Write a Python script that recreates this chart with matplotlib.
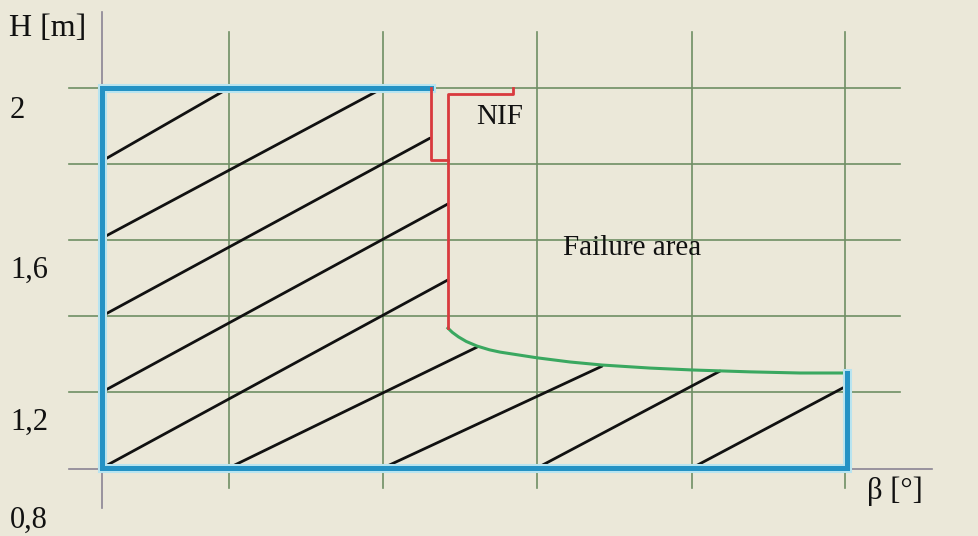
import matplotlib
matplotlib.use("Agg")
import matplotlib.pyplot as plt

# ---- data (beta in arbitrary grid units, H in m) ----
grid_beta = [0.819, 1.813, 2.806, 3.806, 4.794]
grid_H = [1.2, 1.4, 1.6, 1.8, 2.0]

y_tick_labels = ["2", "1,6", "1,2", "0,8"]
y_tick_label_pos = [1.921, 1.50, 1.10, 0.842]

# safe-area border (blue)
safe_left_beta = [2.12, 0.0, 0.0, 4.806, 4.806]
safe_left_H = [2.0, 2.0, 1.0, 1.0, 1.25]

# NIF boundary (red)
nif_a_beta = [2.12, 2.12, 2.232]
nif_a_H = [2.0, 1.811, 1.811]
nif_b_beta = [2.652, 2.652, 2.232, 2.232]
nif_b_H = [2.0, 1.984, 1.984, 1.368]

# failure boundary (green)
fail_beta = [2.232, 2.260, 2.300, 2.350, 2.419, 2.500, 2.568, 2.806, 3.019,
             3.226, 3.535, 3.806, 4.181, 4.503, 4.806]
fail_H = [1.368, 1.357, 1.345, 1.333, 1.321, 1.311, 1.305, 1.290, 1.279,
          1.271, 1.263, 1.258, 1.253, 1.250, 1.250]

# hatch lines (start beta, start H, end beta, end H)
hatch_b0 = [0.0, 0.0, 0.0, 0.0, 0.013, 0.832, 1.813, 2.806, 3.806]
hatch_H0 = [1.808, 1.605, 1.40, 1.20, 1.003, 1.003, 1.0, 1.0, 1.0]
hatch_b1 = [0.819, 1.813, 2.116, 2.232, 2.232, 2.419, 3.226, 3.987, 4.781]
hatch_H1 = [2.0, 2.0, 1.868, 1.695, 1.495, 1.318, 1.268, 1.255, 1.211]

# ---- figure ----
W, H = 979, 536
fig = plt.figure(figsize=(W / 100, H / 100), dpi=100)
bg = "#ebe8d9"
fig.patch.set_facecolor(bg)
ax = fig.add_axes([0, 0, 1, 1])
ax.set_facecolor(bg)
sx = 155.0
ax.set_xlim(-102 / sx, (W - 102) / sx)
ax.set_ylim(2.0 - (H - 88) / 380.0, 2.0 + 88 / 380.0)
ax.axis("off")

gcol = "#6f8f64"
for gh in grid_H:
    ax.plot([-0.213, 5.148], [gh, gh], color=gcol, lw=1.2, zorder=1)
for gb in grid_beta:
    ax.plot([gb, gb], [0.947, 2.147], color=gcol, lw=1.2, zorder=1)

acol = "#8a8494"
ax.plot([0, 0], [0.895, 2.20], color=acol, lw=1.2, zorder=1.5)
ax.plot([-0.213, 5.355], [0.998, 0.998], color=acol, lw=1.2, zorder=1.5)

for b0, h0, b1, h1 in zip(hatch_b0, hatch_H0, hatch_b1, hatch_H1):
    ax.plot([b0, b1], [h0, h1], color="#111111", lw=2.0, zorder=2,
            solid_capstyle="round")

ax.plot(fail_beta, fail_H, color="#3aa860", lw=2.2, zorder=3)

ax.plot(safe_left_beta, safe_left_H, color="#b8e4f0", lw=6.5, zorder=3.5,
        solid_joinstyle="miter")
ax.plot(safe_left_beta, safe_left_H, color="#2492c4", lw=3.6, zorder=4,
        solid_joinstyle="miter")

rcol = "#d93a3e"
ax.plot(nif_a_beta, nif_a_H, color=rcol, lw=2.0, zorder=4)
ax.plot(nif_b_beta, nif_b_H, color=rcol, lw=2.0, zorder=4)

font = dict(family="Liberation Serif", color="#111111")
ax.text(-0.600, 2.137, "H [m]", ha="left", va="baseline", fontsize=23, **font)
for lab, pos in zip(y_tick_labels, y_tick_label_pos):
    ax.text(-0.594, pos, lab, ha="left", va="baseline", fontsize=22, **font)
ax.text(2.413, 1.905, "NIF", ha="left", va="baseline", fontsize=21, **font)
ax.text(2.974, 1.561, "Failure area", ha="left", va="baseline", fontsize=21, **font)
ax.text(4.935, 0.918, "β [°]", ha="left", va="baseline", fontsize=22, **font)

fig.savefig("out.png", dpi=100, facecolor=bg)
